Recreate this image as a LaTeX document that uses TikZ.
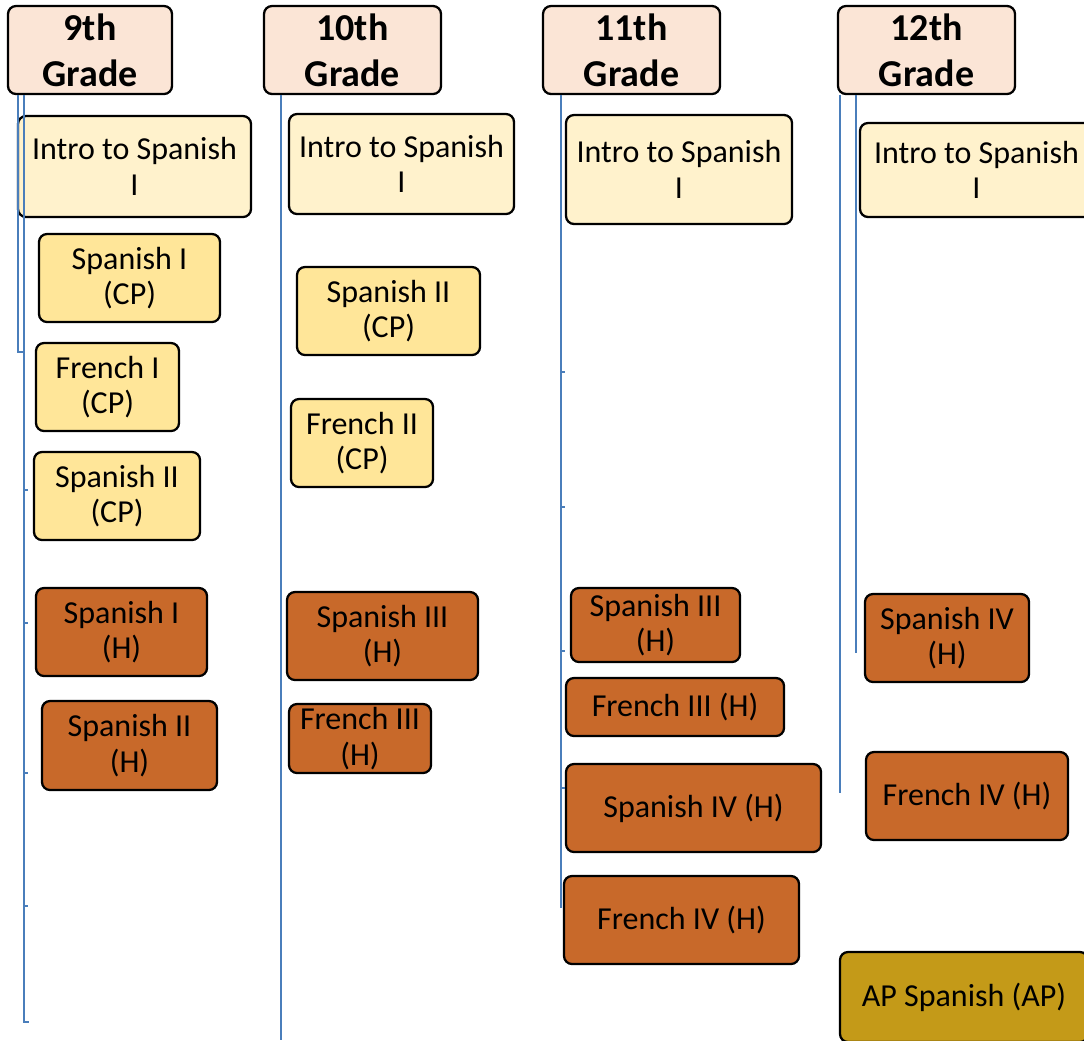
\documentclass[tikz,border=0pt]{standalone}
\usepackage{fontspec}
\setmainfont{Carlito}
\usetikzlibrary{fit}
\definecolor{hdrfill}{HTML}{FBE5D6}
\definecolor{introfill}{HTML}{FFF2CC}
\definecolor{cpfill}{HTML}{FFE699}
\definecolor{hfill}{HTML}{C8692A}
\definecolor{apfill}{HTML}{C49A18}
\definecolor{linec}{HTML}{4A7EBB}
\tikzset{
  box/.style={draw=black, line width=1.7pt, rounded corners=6pt, inner sep=0pt},
  lbl/.style={align=center, inner sep=0pt, font=\fontsize{24}{26.5}\selectfont},
  hlbl/.style={align=center, inner sep=0pt, font=\fontsize{28.5}{34.5}\selectfont\bfseries},
  txt/.style={label={[lbl]center:{#1}}},
  htxt/.style={label={[hlbl]center:{#1}}},
  hdr/.style={box, fill=hdrfill},
  intro/.style={box, fill=introfill},
  cp/.style={box, fill=cpfill},
  hon/.style={box, fill=hfill},
  ap/.style={box, fill=apfill},
  conn/.style={draw=linec, line width=2.2pt},
  tick/.style={draw=linec, line width=1.8pt}
}
\begin{document}
\begin{tikzpicture}[x=0.75pt,y=-0.75pt]
\useasboundingbox (0,0) rectangle (1084,1040);
% headers
\node[hdr, fit={(8,6) (172,94)}, htxt={9th\\Grade}] (h9) {};
\node[hdr, fit={(264,6) (441,94)}, htxt={10th\\Grade}] (h10) {};
\node[hdr, fit={(543,6) (720,94)}, htxt={11th\\Grade}] (h11) {};
\node[hdr, fit={(838,6) (1015,94)}, htxt={12th\\Grade}] (h12) {};
% 9th grade
\node[intro, fit={(18,116) (251,217)}, txt={Intro to Spanish\\I}] (a1) {};
\node[cp, fit={(39,234) (220,322)}, txt={Spanish I\\(CP)}] (a2) {};
\node[cp, fit={(36,343) (179,431)}, txt={French I\\(CP)}] (a3) {};
\node[cp, fit={(34,452) (200,540)}, txt={Spanish II\\(CP)}] (a4) {};
\node[hon, fit={(36,588) (207,676)}, txt={Spanish I\\(H)}] (a5) {};
\node[hon, fit={(42,701) (217,790)}, txt={Spanish II\\(H)}] (a6) {};
% 10th grade
\node[intro, fit={(289,114) (514,214)}, txt={Intro to Spanish\\I}] (b1) {};
\node[cp, fit={(297,267) (480,355)}, txt={Spanish II\\(CP)}] (b2) {};
\node[cp, fit={(291,399) (433,487)}, txt={French II\\(CP)}] (b3) {};
\node[hon, fit={(287,592) (478,680)}, txt={Spanish III\\(H)}] (b4) {};
\node[hon, fit={(289,704) (431,773)}, txt={French III\\(H)}] (b5) {};
% 11th grade
\node[intro, fit={(566,115) (792,224)}, txt={Intro to Spanish\\I}] (c1) {};
\node[hon, fit={(571,588) (740,662)}, txt={Spanish III\\(H)}] (c2) {};
\node[hon, fit={(566,678) (784,736)}, txt={French III (H)}] (c3) {};
\node[hon, fit={(566,764) (821,852)}, txt={Spanish IV (H)}] (c4) {};
\node[hon, fit={(564,876) (799,964)}, txt={French IV (H)}] (c5) {};
% 12th grade
\node[intro, fit={(860,123) (1093,217)}, txt={Intro to Spanish\\I}] (d1) {};
\node[hon, fit={(865,594) (1029,682)}, txt={Spanish IV\\(H)}] (d2) {};
\node[hon, fit={(866,752) (1068,840)}, txt={French IV (H)}] (d3) {};
\node[ap, fit={(840,952) (1088,1042)}, txt={AP Spanish (AP)}] (d4) {};
% connector ends
\coordinate (p1) at (18,352);
\coordinate (p1b) at (24,352);
\coordinate (p2) at (24,1022);
\coordinate (p2b) at (29,1022);
\coordinate (p3) at (281,1040);
\coordinate (p4) at (561,908);
\coordinate (p5) at (840,793);
\coordinate (p6) at (856,653);
% connectors
\draw[conn] (h9.south -| p1) -- (p1) -- (p1b);
\draw[conn] (h9.south -| p2) -- (p2) -- (p2b);
\draw[conn] (h10.south -| p3) -- (p3);
\draw[conn] (h11.south -| p4) -- (p4);
\draw[conn] (h12.south -| p5) -- (p5);
\draw[conn] (h12.south -| p6) -- (p6);
% small ticks
\foreach \y in {490,623,773,906} \draw[tick] (24,\y) -- (28,\y);
\foreach \y in {372,507,651,788} \draw[tick] (561,\y) -- (565,\y);
\end{tikzpicture}
\end{document}
